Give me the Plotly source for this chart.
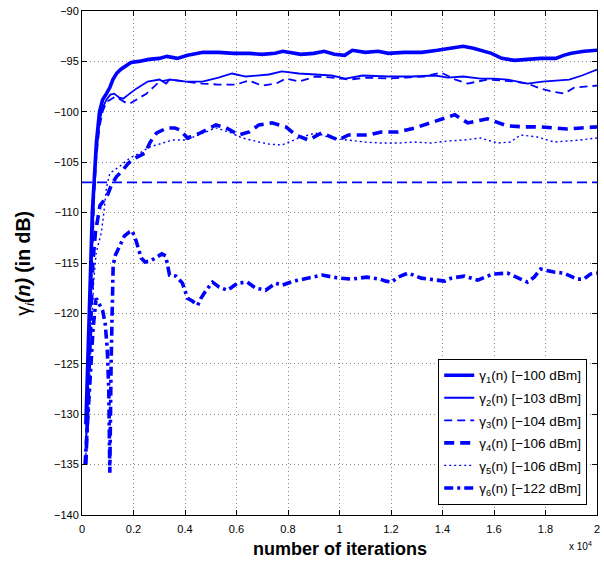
import plotly.graph_objects as go

# ---- data: iteration index and gamma_i(n) in dB for each user ----
it1 = [150, 250, 330, 400, 480, 560, 680, 800, 950, 1080, 1200, 1340, 1500, 1700, 1900,
       2200, 2600, 3000, 3300, 3700, 4100, 4700, 5300, 5900, 6500, 7000, 7500, 7800, 8200,
       8500, 9000, 9400, 9800, 10200, 10500, 11000, 11500, 11900, 12500, 13200, 13800,
       14400, 14800, 15200, 15500, 15900, 16300, 16800, 17300, 17800, 18400, 18700, 19000,
       19500, 20000]
g1 = [-131, -124, -116, -110, -106, -103, -100, -98.8, -98.2, -97.6, -96.8, -96.2, -95.8,
      -95.5, -95.1, -95.0, -94.8, -94.7, -94.5, -94.7, -94.4, -94.1, -94.1, -94.2, -94.2,
      -94.3, -94.2, -94.0, -94.2, -94.3, -94.2, -94.0, -94.3, -94.4, -93.9, -94.1, -94.0,
      -94.2, -94.1, -94.1, -93.9, -93.7, -93.5, -93.7, -93.9, -94.2, -94.7, -94.9, -94.8,
      -94.7, -94.7, -94.4, -94.2, -94.0, -93.9]

it2 = [150, 250, 330, 400, 480, 560, 680, 800, 950, 1100, 1250, 1450, 1600, 1800, 2110,
       2550, 3010, 3270, 3400, 4040, 4680, 5300, 5830, 6360, 7260, 7760, 8420, 9060, 9690,
       10230, 10900, 11890, 12800, 13710, 14210, 14800, 15480, 16000, 16520, 17300, 17880,
       18920, 19420, 20000]
g2 = [-133, -126, -118, -112, -107.5, -104, -101, -99.6, -98.8, -98.3, -98.2, -98.6, -98.7,
      -98.3, -97.7, -97.0, -96.8, -97.2, -96.8, -97.0, -97.0, -96.6, -96.2, -96.5, -96.3,
      -96.0, -96.2, -96.3, -96.4, -96.7, -96.4, -96.5, -96.5, -96.4, -96.6, -96.5, -96.7,
      -96.7, -96.8, -97.2, -97.0, -96.8, -96.4, -95.8]

it3 = [200, 300, 400, 480, 560, 680, 800, 950, 1100, 1300, 1500, 1700, 1850, 2100, 2500,
       2800, 3010, 3400, 4000, 4670, 5300, 5970, 6490, 6990, 7530, 7920, 8420, 9070, 9700,
       10400, 11100, 11890, 12600, 13300, 13940, 14500, 14980, 15750, 16300, 16800, 17300,
       17800, 18300, 18730, 19110, 19500, 20000]
g3 = [-131, -122, -113, -108, -104.5, -101.5, -100, -99.0, -98.8, -98.5, -98.8, -99.1,
      -99.2, -98.8, -98.2, -97.5, -97.0, -96.8, -97.0, -97.2, -97.3, -97.3, -96.9, -97.4,
      -97.2, -96.7, -97.0, -96.5, -96.6, -96.8, -96.6, -96.7, -96.6, -96.5, -96.1, -96.8,
      -97.2, -96.8, -96.9, -97.0, -97.2, -97.7, -98.0, -98.2, -97.6, -97.5, -97.4]

it4 = [150, 250, 330, 420, 520, 620, 700, 850, 1000, 1150, 1350, 1550, 1800, 2050, 2450,
       2650, 2900, 3300, 3600, 3800, 4100, 4600, 5200, 5600, 6100, 6490, 6870, 7380, 7920,
       8300, 8800, 9300, 9960, 10350, 11120, 11620, 12280, 12930, 13550, 14100, 14480,
       14980, 15750, 16520, 17180, 17800, 18840, 19400, 20000]
g4 = [-135, -128, -121, -115, -112, -110.2, -109.3, -108.8, -108.2, -107.2, -106.4, -105.9,
      -105.1, -104.6, -104.1, -103.0, -102.1, -101.6, -101.6, -101.8, -102.6, -102.1,
      -101.3, -101.6, -102.3, -102.0, -101.3, -101.1, -101.5, -102.3, -102.8, -102.1,
      -102.8, -102.3, -102.3, -102.0, -102.0, -101.6, -101.1, -100.6, -100.3, -101.1,
      -100.7, -101.4, -101.5, -101.5, -101.7, -101.6, -101.5]

it5 = [150, 250, 350, 450, 550, 650, 750, 850, 950, 1080, 1250, 1470, 1850, 2240, 2620,
       3010, 3520, 4040, 4600, 5200, 5700, 6230, 6870, 7260, 7760, 8420, 9060, 9690, 10300,
       10990, 11600, 12280, 12900, 13550, 14200, 14850, 15480, 16140, 16640, 17030, 17680,
       18340, 19340, 20000]
g5 = [-134, -128, -122, -117, -114, -113, -112, -110, -107.5, -106.1, -105.8, -105.4,
      -104.6, -104.1, -103.5, -103.2, -102.8, -102.8, -102.2, -101.6, -102.0, -102.6,
      -103.0, -103.2, -103.3, -102.6, -102.1, -102.6, -102.8, -103.0, -103.1, -103.1,
      -103.0, -103.1, -102.9, -102.8, -102.6, -103.1, -103.0, -102.3, -102.5, -103.0,
      -102.8, -102.6]

it6 = [120, 250, 350, 430, 550, 700, 800, 900, 980, 1040, 1080, 1130, 1170, 1210, 1300,
       1450, 1650, 1850, 1950, 2100, 2300, 2450, 2650, 2850, 3100, 3250, 3400, 3650, 3900,
       4100, 4300, 4490, 4620, 4820, 5070, 5330, 5650, 6040, 6420, 6750, 7130, 7520, 7770,
       8220, 8800, 9320, 9960, 10480, 11050, 11570, 11800, 12020, 12280, 12660, 13180,
       13760, 14080, 14340, 14850, 15370, 15950, 16520, 17040, 17300, 17560, 17810, 18330,
       18710, 19230, 19490, 19740, 20000]
g6 = [-135, -129, -124, -121.5, -118.5, -119.2, -119.7, -121, -123.5, -127.5, -135.8, -125,
      -118, -115.2, -114.2, -113.3, -112.3, -111.9, -111.8, -112.8, -114.5, -114.9, -114.8,
      -114.5, -114.1, -114.3, -116.2, -116.3, -117.0, -118.5, -118.8, -119.2, -118.5,
      -117.7, -116.9, -117.4, -117.7, -117.0, -116.9, -117.5, -117.7, -117.0, -117.2,
      -116.8, -116.5, -116.2, -116.5, -116.6, -116.4, -116.6, -116.8, -116.9, -116.4,
      -116.0, -116.5, -116.7, -116.8, -116.5, -116.3, -116.7, -116.1, -116.0, -116.6,
      -116.9, -116.4, -115.6, -115.9, -116.0, -116.6, -116.6, -116.1, -116.0]

# constant reference level
ref_x = [0, 20000]
ref_level = [-107, -107]

names = ["γ<sub>1</sub>(n) [−100 dBm]", "γ<sub>2</sub>(n) [−103 dBm]",
         "γ<sub>3</sub>(n) [−104 dBm]", "γ<sub>4</sub>(n) [−106 dBm]",
         "γ<sub>5</sub>(n) [−106 dBm]", "γ<sub>6</sub>(n) [−122 dBm]"]

xtick_vals = [0, 2000, 4000, 6000, 8000, 10000, 12000, 14000, 16000, 18000, 20000]
xtick_text = ["0", "0.2", "0.4", "0.6", "0.8", "1", "1.2", "1.4", "1.6", "1.8", "2"]
ytick_vals = [-140, -135, -130, -125, -120, -115, -110, -105, -100, -95, -90]

BLUE = "#0000ff"
FONT = "Liberation Sans, Arial, sans-serif"

styles = [
    dict(width=3.6, dash="solid"),
    dict(width=1.8, dash="solid"),
    dict(width=1.8, dash="8px,5px"),
    dict(width=3.6, dash="10px,6px"),
    dict(width=1.4, dash="2px,3px"),
    dict(width=3.6, dash="9px,4px,3px,4px"),
]

fig = go.Figure()

fig.add_trace(go.Scatter(x=ref_x, y=ref_level, mode="lines", showlegend=False,
                         line=dict(color=BLUE, width=1.8, dash="10px,5px")))

for k, (xs, ys, nm, st) in enumerate(zip([it1, it2, it3, it4, it5, it6],
                                         [g1, g2, g3, g4, g5, g6], names, styles)):
    fig.add_trace(go.Scatter(x=xs, y=ys, mode="lines", name=nm, legendgroup=f"g{k}",
                             line=dict(color=BLUE, width=st["width"], dash=st["dash"])))

axis_common = dict(showline=True, linecolor="black", linewidth=1, mirror="allticks",
                   ticks="inside", ticklen=5, tickcolor="black",
                   showgrid=True, gridcolor="#8a8a8a", griddash="1px,3px", gridwidth=1,
                   zeroline=False, tickfont=dict(family=FONT, size=11, color="black"))

fig.update_xaxes(range=[0, 20000], tickvals=xtick_vals, ticktext=xtick_text,
                 ticklabelstandoff=4, **axis_common)
fig.update_yaxes(range=[-140, -90], tickvals=ytick_vals, **axis_common)

fig.update_layout(
    width=604, height=569,
    margin=dict(l=82, r=4, t=11, b=54),
    plot_bgcolor="white", paper_bgcolor="white",
    font=dict(family=FONT, color="black"),
    legend=dict(x=0.981, y=0.02, xanchor="right", yanchor="bottom",
                bgcolor="white", bordercolor="black", borderwidth=1,
                font=dict(family=FONT, size=13.5, color="black"),
                tracegroupgap=2),
    annotations=[
        dict(text="<b>number of iterations</b>", xref="paper", yref="paper",
             x=0.5, y=-0.068, xanchor="center", yanchor="middle", showarrow=False,
             font=dict(family=FONT, size=18, color="black")),
        dict(text="γ<sub><i>i</i></sub><b><i>(n)</i> (in dB)</b>", xref="paper", yref="paper",
             x=-0.113, y=0.5, xanchor="center", yanchor="middle", textangle=-90,
             showarrow=False, font=dict(family=FONT, size=19.5, color="black")),
        dict(text="x 10<sup>4</sup>", xref="paper", yref="paper",
             x=0.967, y=-0.061, xanchor="center", yanchor="middle", showarrow=False,
             font=dict(family=FONT, size=10, color="black")),
    ],
)

fig.write_html("out.html")
